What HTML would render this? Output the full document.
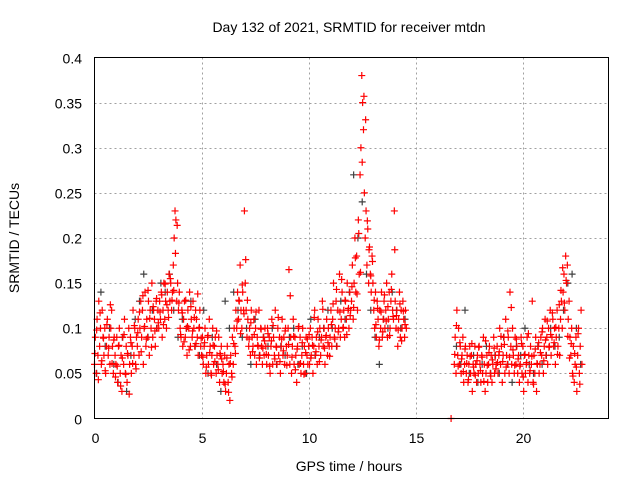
<!DOCTYPE html>
<html><head><meta charset="utf-8">
<style>
body{margin:0;background:#fff;}
svg{display:block;font-family:"Liberation Sans",sans-serif;}
</style></head>
<body>
<svg id="chart" width="640" height="480">
<text x="349" y="32" text-anchor="middle" font-size="14">Day 132 of 2021, SRMTID for receiver mtdn</text>
<g id="grid"></g>
<g id="ticks"></g>
<g id="darkPts"></g>
<g id="redPts"></g>
<rect x="94.5" y="57.5" width="514" height="361" fill="none" stroke="#000" stroke-width="1"/>
<text x="349" y="471" text-anchor="middle" font-size="14">GPS time / hours</text>
<text transform="translate(19,238) rotate(-90)" text-anchor="middle" font-size="14">SRMTID / TECUs</text>
</svg>
<script>
const xTicks=[0,5,10,15,20];
const yTicks=[0,0.05,0.1,0.15,0.2,0.25,0.3,0.35,0.4];
const yTickLabels=["0","0.05","0.1","0.15","0.2","0.25","0.3","0.35","0.4"];
const redStartA=0, redStepA=0.04;
const redValuesA=[.06,.09,.05,.11,.07,.13,.08,.1,.06,.12,.09,.07,.1,.05,.08,.11,.07,.09,.06,.1,.12,.08,.05,.09,.07,
.06,.09,.04,.08,.1,.05,.07,.03,.09,.06,.11,.05,.08,.04,.07,.1,.06,.09,.05,.08,.12,.07,.1,.06,.09,
.08,.11,.07,.1,.13,.09,.12,.06,.1,.14,.08,.11,.09,.13,.07,.12,.1,.15,.09,.12,.11,.08,.13,.1,.12,
.1,.13,.11,.14,.09,.12,.15,.11,.13,.1,.14,.12,.16,.13,.15,.12,.14,.17,.2,.23,.22,.13,.15,.12,.14,
.1,.09,.12,.08,.11,.13,.09,.1,.07,.12,.1,.14,.08,.11,.09,.13,.1,.08,.12,.11,.09,.07,.1,.12,.08,
.07,.09,.06,.08,.1,.05,.07,.09,.06,.11,.08,.05,.07,.1,.06,.08,.09,.05,.07,.06,.09,.04,.07,.08,.05,
.06,.04,.07,.03,.05,.08,.04,.06,.02,.07,.05,.09,.06,.1,.08,.12,.1,.14,.11,.13,.17,.12,.1,.14,.12,
.23,.15,.12,.09,.11,.08,.1,.07,.12,.09,.08,.11,.07,.1,.06,.09,.08,.12,.07,.1,.08,.06,.09,.07,.1,
.08,.06,.1,.07,.09,.05,.08,.11,.06,.09,.07,.12,.08,.06,.1,.07,.09,.05,.08,.11,.07,.09,.06,.1,.08,
.07,.1,.165,.06,.09,.05,.08,.11,.06,.09,.07,.04,.08,.1,.06,.09,.05,.07,.1,.06,.08,.05,.09,.07,.06,
.08,.06,.1,.07,.09,.05,.08,.12,.07,.09,.06,.11,.08,.1,.07,.09,.13,.08,.1,.06,.09,.11,.07,.1,.08,
.09,.12,.08,.11,.15,.09,.1,.13,.08,.12,.1,.16,.09,.11,.14,.1,.12,.09,.13,.11,.15,.12,.1,.14,.12,
.13,.17,.11,.15,.2,.14,.18,.12,.22,.16,.27,.3,.38,.35,.32,.25,.2,.23,.17,.21,.15,.19,.16,.14,.18,
.15,.12,.1,.14,.09,.13,.11,.08,.12,.1,.14,.09,.11,.13,.1,.12,.15,.09,.11,.14,.1,.13,.16,.12,.11,
.23,.13,.1,.12,.08,.11,.14,.09,.12,.1,.13,.11,.09,.12,.1];
const redStartB=16.8, redStepB=0.04;
const redValuesB=[.06,.09,.05,.12,.07,.1,.06,.08,.05,.07,.09,.04,.06,.08,.05,.07,.04,.06,.08,.05,.07,.03,.06,.05,.08,
.06,.04,.07,.05,.08,.06,.04,.07,.05,.09,.06,.03,.05,.07,.04,.06,.08,.05,.07,.04,.06,.09,.05,.07,.06,
.08,.05,.07,.1,.06,.08,.04,.07,.09,.05,.11,.07,.06,.09,.05,.14,.08,.06,.1,.07,.05,.09,.06,.08,.05,
.07,.04,.06,.09,.05,.08,.03,.07,.05,.06,.09,.04,.07,.05,.08,.06,.13,.04,.07,.05,.09,.03,.06,.08,.05,
.06,.09,.07,.1,.05,.08,.11,.07,.09,.06,.1,.08,.12,.07,.09,.11,.08,.1,.06,.09,.12,.08,.1,.07,.11,
.13,.1,.14,.16,.12,.18,.15,.17,.11,.13,.09,.07,.1,.05,.08,.04,.06,.09,.03,.07,.1,.05,.08,.12,.06];
const redStartC=0.02, redStepC=0.08;
const redValuesC=[.072,.098,.043,.117,.064,.089,.053,.104,.078,.126,.061,.087,.046,
.058,.081,.036,.067,.093,.049,.072,.027,.084,.061,.103,.055,
.095,.118,.074,.136,.102,.088,.142,.111,.079,.124,.097,.133,.106,
.118,.137,.104,.149,.126,.112,.155,.131,.142,.183,.214,.128,
.093,.117,.085,.131,.102,.076,.124,.097,.112,.083,.138,.101,.089,
.068,.084,.057,.092,.073,.048,.081,.063,.097,.054,.072,.066,
.052,.038,.067,.029,.061,.046,.083,.072,.108,.131,.094,.148,.116,
.176,.131,.088,.106,.074,.093,.118,.081,.067,.099,.078,.086,
.071,.094,.058,.086,.103,.066,.079,.112,.063,.088,.075,.097,.059,
.082,.136,.068,.091,.054,.077,.102,.061,.084,.049,.073,.088,
.093,.067,.081,.112,.074,.096,.063,.087,.121,.078,.092,.084,.069,
.104,.127,.088,.143,.096,.118,.154,.101,.131,.093,.122,.114,
.146,.123,.178,.138,.205,.162,.284,.357,.331,.219,.187,.158,.174,
.131,.104,.122,.087,.118,.096,.137,.108,.124,.092,.143,.113,
.187,.114,.098,.127,.086,.119,.104];
const redStartD=16.82, redStepD=0.08;
const redValuesD=[.071,.103,.058,.084,.066,.052,.077,.061,.043,.069,.083,.057,.048,
.064,.079,.053,.068,.041,.086,.059,.073,.047,.065,.078,.055,.062,
.074,.091,.063,.082,.057,.097,.068,.123,.076,.059,.088,.066,
.058,.083,.046,.071,.062,.094,.053,.069,.038,.077,.061,.084,
.073,.096,.064,.087,.108,.079,.093,.117,.084,.101,.071,.126,
.142,.167,.128,.153,.091,.067,.083,.047,.072,.057,.094,.038];
const redExtraTimes=[16.65];
const redExtraValues=[0];
const darkStartA=0.1, darkStepA=0.2;
const darkValuesA=[.05,.14,.08,.1,.06,.04,.09,.03,.07,.11,.13,.16,.09,.12,.1,.15,.14,.16,.12,.09,.11,.1,.13,.08,.07,.12,.05,.09,.06,.03,
.13,.1,.14,.12,.09,.1,.06,.11,.07,.09,.08,.1,.06,.08,.07,.09,.1,.06,.08,.05,.11,.07,.09,.1,.12,.1,.08,.13,.11,.14,.27,.2,.24,.16,.12,.09,.06,.11,.1,.14,.12,.1,.11];
const darkStartB=16.9, darkStepB=0.2;
const darkValuesB=[.08,.06,.12,.05,.07,.04,.06,.08,.05,.07,.05,.09,.06,.04,.08,.07,.1,.06,.05,.08,.06,.07,.1,.08,.09,.12,.15,.16,.1,.06];

const X0=94.5,X1=608.5,Y0=418.5,Y1=57.5,XMIN=0,XMAX=24,YMIN=0,YMAX=0.4;
const xs=v=>X0+(v-XMIN)/(XMAX-XMIN)*(X1-X0);
const ys=v=>Y0-(v-YMIN)/(YMAX-YMIN)*(Y0-Y1);
const NS="http://www.w3.org/2000/svg";
const grid=document.getElementById('grid'),ticks=document.getElementById('ticks');
function mk(tag,attrs,parent){const e=document.createElementNS(NS,tag);for(const k in attrs)e.setAttribute(k,attrs[k]);parent.appendChild(e);return e;}
xTicks.forEach(t=>{
 const x=Math.round(xs(t))+0.5;
 if(t>XMIN){const g=mk('line',{x1:x,x2:x,y1:Y1,y2:Y0,stroke:'#a0a0a0','stroke-dasharray':'2,3'},grid);
 
 }
 const l=mk('text',{x:x,y:443,'text-anchor':'middle','font-size':14},ticks);
 
 
 l.textContent=t;
});
yTicks.forEach((t,i)=>{
 const y=Math.round(ys(t))+0.5;
 if(t>YMIN&&t<YMAX){const g=mk('line',{x1:X0,x2:X1,y1:y,y2:y,stroke:'#a0a0a0','stroke-dasharray':'2,3'},grid);
 
 }
 const l=mk('text',{x:82,y:y+5,'text-anchor':'end','font-size':14},ticks);
 
 
 l.textContent=yTickLabels[i];
});
function plus(g,t,v,color){
 const x=xs(t),y=ys(v);
 const p=mk('path',{d:`M${x-3.5},${y}h7M${x},${y-3.5}v7`,stroke:color,'stroke-width':1.2,fill:'none'},g);
 
 
}
const dg=document.getElementById('darkPts'),rg=document.getElementById('redPts');
darkValuesA.forEach((v,i)=>plus(dg,darkStartA+i*darkStepA,v,'#404040'));
darkValuesB.forEach((v,i)=>plus(dg,darkStartB+i*darkStepB,v,'#404040'));
redValuesA.forEach((v,i)=>plus(rg,redStartA+i*redStepA,v,'#ff0000'));
redValuesB.forEach((v,i)=>plus(rg,redStartB+i*redStepB,v,'#ff0000'));
redValuesC.forEach((v,i)=>plus(rg,redStartC+i*redStepC,v,'#ff0000'));
redValuesD.forEach((v,i)=>plus(rg,redStartD+i*redStepD,v,'#ff0000'));
redExtraValues.forEach((v,i)=>plus(rg,redExtraTimes[i],v,'#ff0000'));
</script>
</body></html>
